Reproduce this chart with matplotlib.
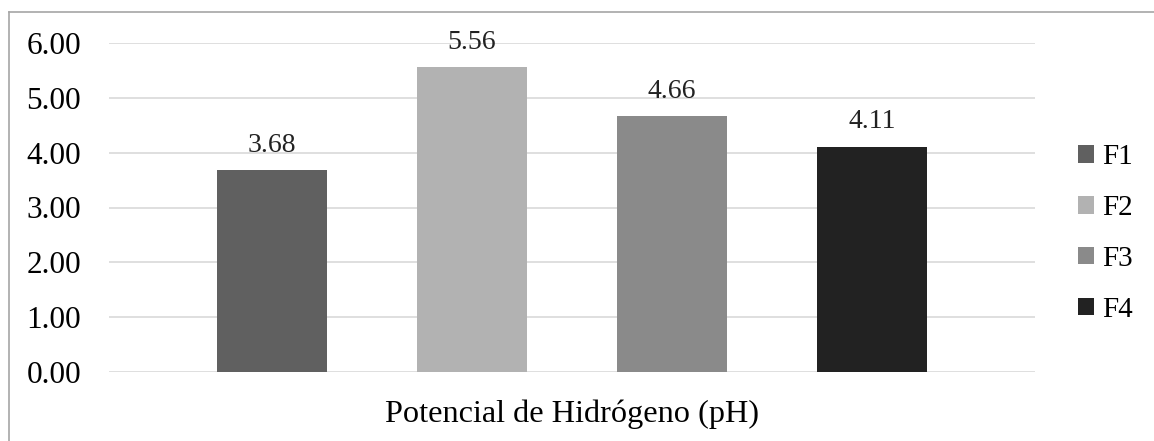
import matplotlib.pyplot as plt
from matplotlib.lines import Line2D

# Valores de pH por formulación
formulaciones = ["F1", "F2", "F3", "F4"]
valores_ph = [3.68, 5.56, 4.66, 4.11]
colores = ["#606060", "#b2b2b2", "#8a8a8a", "#222222"]
categoria = "Potencial de Hidrógeno (pH)"
ticks_y = [0, 1, 2, 3, 4, 5, 6]

plt.rcParams["font.family"] = ["Liberation Serif", "DejaVu Serif"]

W, H = 1154, 441
fig = plt.figure(figsize=(W / 100, H / 100), dpi=100)

# Área de trazado en píxeles
x0, x1, y_top, y_bot = 109, 1035, 43, 372
ax = fig.add_axes([x0 / W, (H - y_bot) / H, (x1 - x0) / W, (y_bot - y_top) / H])

ancho = 0.55
posiciones = [i - (len(formulaciones) - 1) / 2 for i in range(len(formulaciones))]
barras = ax.bar(posiciones, valores_ph, width=ancho, color=colores,
                label=formulaciones, zorder=3)

for b, v in zip(barras, valores_ph):
    ax.annotate(f"{v:.2f}", (b.get_x() + b.get_width() / 2, v),
                xytext=(0, 9), textcoords="offset points",
                ha="center", va="bottom", fontsize=20, color="#222222")

ax.set_xlim(-2.315, 2.315)
ax.set_ylim(0, 6)
ax.set_yticks(ticks_y)
ax.set_yticklabels([f"{t:.2f}" for t in ticks_y], fontsize=22.5)
ax.tick_params(axis="y", length=0, pad=20)
ax.set_xticks([0])
ax.set_xticklabels([categoria], fontsize=23.2)
ax.tick_params(axis="x", length=0, pad=19.5)
ax.grid(axis="y", color="#d9d9d9", linewidth=1.2, zorder=0)
for s in ax.spines.values():
    s.set_visible(False)

ax.legend(handles=list(barras), labels=formulaciones, loc="center left",
          bbox_to_anchor=((1066 - x0) / (x1 - x0), 0.421), frameon=False,
          fontsize=21, handlelength=0.55, handleheight=0.55,
          handletextpad=0.3, labelspacing=0.85, borderaxespad=0)

# Borde exterior del gráfico
fig.add_artist(Line2D([9 / W, 9 / W], [0, 1 - 11.7 / H], color="#a6a6a6",
                      linewidth=1.2, transform=fig.transFigure))
fig.add_artist(Line2D([9 / W, 1], [1 - 11.7 / H, 1 - 11.7 / H], color="#a6a6a6",
                      linewidth=1.2, transform=fig.transFigure))

fig.savefig("out.png", dpi=100)
